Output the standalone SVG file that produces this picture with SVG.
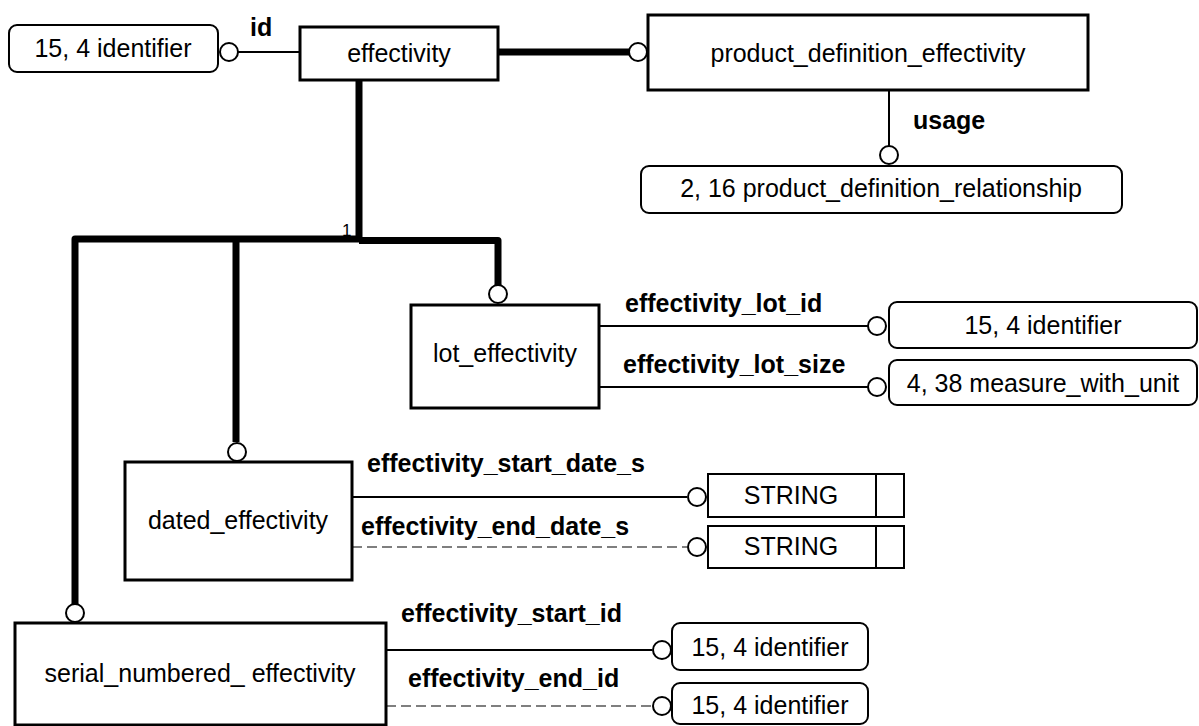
<svg xmlns="http://www.w3.org/2000/svg" width="1199" height="726" viewBox="0 0 1199 726">
<style>
.ent{fill:#fff;stroke:#000;stroke-width:3}
.ref{fill:#fff;stroke:#000;stroke-width:2}
.t{font-family:"Liberation Sans",Arial,sans-serif;font-size:25px;fill:#000;text-anchor:middle}
.lb{font-family:"Liberation Sans",Arial,sans-serif;font-size:25px;font-weight:bold;fill:#000}
.thin{fill:none;stroke:#000;stroke-width:2}
.dash{fill:none;stroke:#555;stroke-width:1.5;stroke-dasharray:10 5}
.thick{fill:none;stroke:#000;stroke-width:7;stroke-linejoin:round}
.c{fill:#fff;stroke:#000;stroke-width:2}
</style>
<rect width="1199" height="726" fill="#fff"/>
<g id="connectors">
<line class="thin" x1="238" y1="52" x2="300" y2="52"/>
<line class="thick" x1="498" y1="52" x2="630" y2="52"/>
<line class="thin" x1="889" y1="90" x2="889" y2="146"/>
<path class="thick" d="M359,80 V239 H75 V604"/>
<path class="thick" d="M236,239 V442"/>
<path class="thick" d="M359,240.5 H498 V285"/>
<line class="thin" x1="599" y1="326" x2="868" y2="326"/>
<line class="thin" x1="599" y1="387" x2="868" y2="387"/>
<line class="thin" x1="352" y1="497" x2="687" y2="497"/>
<line class="dash" x1="352" y1="547" x2="687" y2="547"/>
<line class="thin" x1="386" y1="650" x2="652" y2="650"/>
<line class="dash" x1="386" y1="706" x2="652" y2="706"/>
<circle class="c" cx="229" cy="52" r="9"/>
<circle class="c" cx="638" cy="52" r="9"/>
<circle class="c" cx="889" cy="155" r="9"/>
<circle class="c" cx="498" cy="294" r="9"/>
<circle class="c" cx="237" cy="452" r="9"/>
<circle class="c" cx="75" cy="613" r="9"/>
<circle class="c" cx="877" cy="326" r="9"/>
<circle class="c" cx="877" cy="387" r="9"/>
<circle class="c" cx="697" cy="497" r="9"/>
<circle class="c" cx="697" cy="547" r="9"/>
<circle class="c" cx="662" cy="650" r="9"/>
<circle class="c" cx="662" cy="706" r="9"/>
<text class="lb" x="250" y="36">id</text>
<text class="lb" x="913" y="129">usage</text>
<text x="342" y="236" style="font-family:'Liberation Sans',Arial,sans-serif;font-size:17px">1</text>
<text class="lb" x="625" y="312">effectivity_lot_id</text>
<text class="lb" x="623" y="373">effectivity_lot_size</text>
<text class="lb" x="367" y="472">effectivity_start_date_s</text>
<text class="lb" x="361" y="535">effectivity_end_date_s</text>
<text class="lb" x="401" y="622">effectivity_start_id</text>
<text class="lb" x="408" y="687">effectivity_end_id</text>
</g>
<g id="id_type">
<rect class="ref" x="9" y="25" width="209" height="47" rx="8"/>
<text class="t" x="113" y="57">15, 4 identifier</text>
</g>
<g id="effectivity">
<rect class="ent" x="300" y="27" width="198" height="53"/>
<text class="t" x="399" y="62">effectivity</text>
</g>
<g id="product_definition_effectivity">
<rect class="ent" x="648" y="15" width="440" height="75"/>
<text class="t" x="868" y="62">product_definition_effectivity</text>
</g>
<g id="product_definition_relationship">
<rect class="ref" x="641" y="166" width="481" height="47" rx="8"/>
<text class="t" x="881" y="197">2, 16 product_definition_relationship</text>
</g>
<g id="lot_effectivity">
<rect class="ent" x="411" y="305" width="188" height="103"/>
<text class="t" x="505" y="362">lot_effectivity</text>
</g>
<g id="lot_id_type">
<rect class="ref" x="889" y="302" width="308" height="46" rx="8"/>
<text class="t" x="1043" y="334">15, 4 identifier</text>
</g>
<g id="lot_size_type">
<rect class="ref" x="889" y="360" width="308" height="45" rx="8"/>
<text class="t" x="1043" y="392">4, 38 measure_with_unit</text>
</g>
<g id="dated_effectivity">
<rect class="ent" x="125" y="462" width="227" height="118"/>
<text class="t" x="238" y="529">dated_effectivity</text>
</g>
<g id="start_date_type">
<rect class="ref" x="708" y="474" width="196" height="43"/>
<line class="thin" x1="876" y1="474" x2="876" y2="517"/>
<text class="t" x="791" y="504">STRING</text>
</g>
<g id="end_date_type">
<rect class="ref" x="708" y="526" width="196" height="42"/>
<line class="thin" x1="876" y1="526" x2="876" y2="568"/>
<text class="t" x="791" y="555">STRING</text>
</g>
<g id="serial_numbered_effectivity">
<rect class="ent" x="15" y="623" width="371" height="102"/>
<text class="t" x="200" y="682">serial_numbered_ effectivity</text>
</g>
<g id="start_id_type">
<rect class="ref" x="672" y="623" width="196" height="47" rx="8"/>
<text class="t" x="770" y="656">15, 4 identifier</text>
</g>
<g id="end_id_type">
<rect class="ref" x="672" y="683" width="196" height="41" rx="8"/>
<text class="t" x="770" y="714">15, 4 identifier</text>
</g>
</svg>
